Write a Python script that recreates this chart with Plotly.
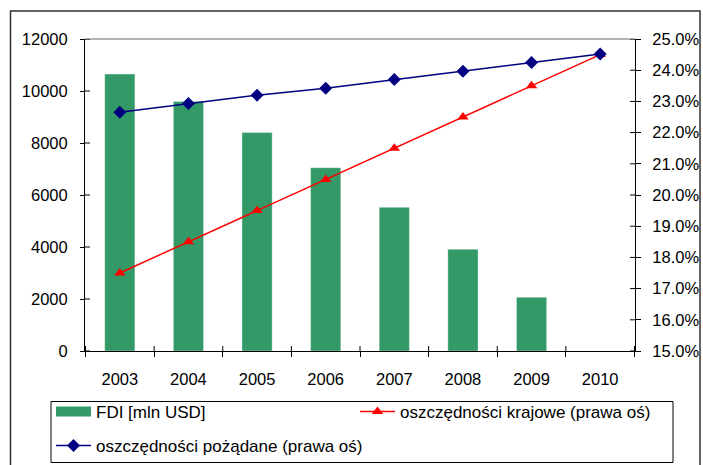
import plotly.graph_objects as go

# --- data ---
years = ["2003", "2004", "2005", "2006", "2007", "2008", "2009", "2010"]
fdi = [10650, 9600, 8400, 7050, 5525, 3910, 2065, None]           # mln USD
sav_domestic = [17.5, 18.5, 19.5, 20.5, 21.5, 22.5, 23.5, 24.5]     # % (right axis)
sav_desired = [22.65, 22.93, 23.2, 23.42, 23.7, 23.97, 24.25, 24.52]  # % (right axis)

left_ticks = [0, 2000, 4000, 6000, 8000, 10000, 12000]
right_ticks = [15, 16, 17, 18, 19, 20, 21, 22, 23, 24, 25]
right_labels = ["15.0%", "16.0%", "17.0%", "18.0%", "19.0%", "20.0%",
                "21.0%", "22.0%", "23.0%", "24.0%", "25.0%"]

W, H = 703, 465
GREEN, RED, NAVY = "#339966", "#ff0000", "#000080"
FONT = "Liberation Sans, Arial, sans-serif"
TICK_SIZE, LEGEND_SIZE = 16.5, 17

# plot area in pixels
PX0, PX1, PY0, PY1 = 85, 635, 39, 351


def px(x):
    return x / W


def py(y):
    return 1 - y / H


fig = go.Figure()

fig.add_trace(go.Bar(
    x=years, y=fdi, name="FDI [mln USD]",
    marker=dict(color=GREEN, line=dict(color="rgba(255,255,255,0.35)", width=1)),
    width=0.44, yaxis="y", showlegend=False,
))

# legend swatch for the bar series (wide flat patch)
fig.add_trace(go.Scatter(
    x=[None], y=[None], name="FDI [mln USD]", mode="lines",
    line=dict(color=GREEN, width=10), legend="legend", yaxis="y",
))

fig.add_trace(go.Scatter(
    x=years, y=sav_domestic, name="oszczędności krajowe (prawa oś)",
    mode="lines+markers", yaxis="y2",
    line=dict(color=RED, width=1.5),
    marker=dict(symbol="triangle-up", size=10, color=RED),
    legend="legend",
))

fig.add_trace(go.Scatter(
    x=years, y=sav_desired, name="oszczędności pożądane (prawa oś)",
    mode="lines+markers", yaxis="y2",
    line=dict(color=NAVY, width=1.5),
    marker=dict(symbol="diamond", size=10, color=NAVY),
    legend="legend2",
))

shapes = []
# plot area top edge
shapes.append(dict(type="line", xref="x domain", yref="y domain", x0=0, x1=1, y0=1, y1=1,
                   line=dict(color="#9a9a9a", width=1.5)))
# inner half of the crossing tick marks
for v in left_ticks:
    shapes.append(dict(type="line", xref="x domain", yref="y", x0=0, x1=5 / (PX1 - PX0),
                       y0=v, y1=v, line=dict(color="black", width=1)))
for v in right_ticks:
    shapes.append(dict(type="line", xref="x domain", yref="y2", x0=1 - 5 / (PX1 - PX0), x1=1,
                       y0=v, y1=v, line=dict(color="black", width=1)))
for i in range(len(years) + 1):
    shapes.append(dict(type="line", xref="x", yref="y domain", x0=i - 0.5, x1=i - 0.5,
                       y0=0, y1=5 / (PY1 - PY0), line=dict(color="black", width=1)))
# legend frame
shapes.append(dict(type="rect", xref="paper", yref="paper",
                   x0=px(51), x1=px(673), y0=py(462.5), y1=py(401.5),
                   line=dict(color="black", width=1), fillcolor="rgba(0,0,0,0)"))
# outer chart frame
shapes.append(dict(type="rect", xref="paper", yref="paper",
                   x0=px(10.5), x1=px(700), y0=py(480), y1=py(11),
                   line=dict(color="#333333", width=1.5), fillcolor="rgba(0,0,0,0)"))

fig.update_layout(
    width=W, height=H,
    margin=dict(l=0, r=0, t=0, b=0, autoexpand=False),
    paper_bgcolor="white", plot_bgcolor="white",
    font=dict(family=FONT, size=TICK_SIZE, color="black"),
    bargap=0.56,
    xaxis=dict(
        domain=[px(PX0), px(PX1)], type="category", automargin=False,
        showline=True, linecolor="black", linewidth=1,
        ticks="outside", ticklen=5, tickcolor="black", tickson="boundaries",
        showgrid=False, zeroline=False,
        tickfont=dict(size=TICK_SIZE), ticklabelstandoff=13,
    ),
    yaxis=dict(
        domain=[py(PY1), py(PY0)], range=[0, 12000], tickvals=left_ticks,
        tickformat="d", showline=True, linecolor="black", linewidth=1, automargin=False,
        ticks="outside", ticklen=4, tickcolor="black",
        showgrid=False, zeroline=False, tickfont=dict(size=TICK_SIZE), ticklabelstandoff=9,
    ),
    yaxis2=dict(
        overlaying="y", side="right", anchor="x", range=[15, 25],
        tickvals=right_ticks, ticktext=right_labels, automargin=False,
        showline=True, linecolor="black", linewidth=1,
        ticks="outside", ticklen=5, tickcolor="black",
        showgrid=False, zeroline=False, tickfont=dict(size=TICK_SIZE), ticklabelstandoff=8,
    ),
    legend=dict(
        orientation="h", x=px(51), y=py(412), xanchor="left", yanchor="middle",
        entrywidth=254, itemwidth=35, bgcolor="rgba(0,0,0,0)", borderwidth=0,
        font=dict(size=LEGEND_SIZE), traceorder="normal",
    ),
    legend2=dict(
        orientation="h", x=px(51), y=py(446), xanchor="left", yanchor="middle",
        itemwidth=35, bgcolor="rgba(0,0,0,0)", borderwidth=0, font=dict(size=LEGEND_SIZE),
    ),
    shapes=shapes,
)

fig.write_html("out.html")
